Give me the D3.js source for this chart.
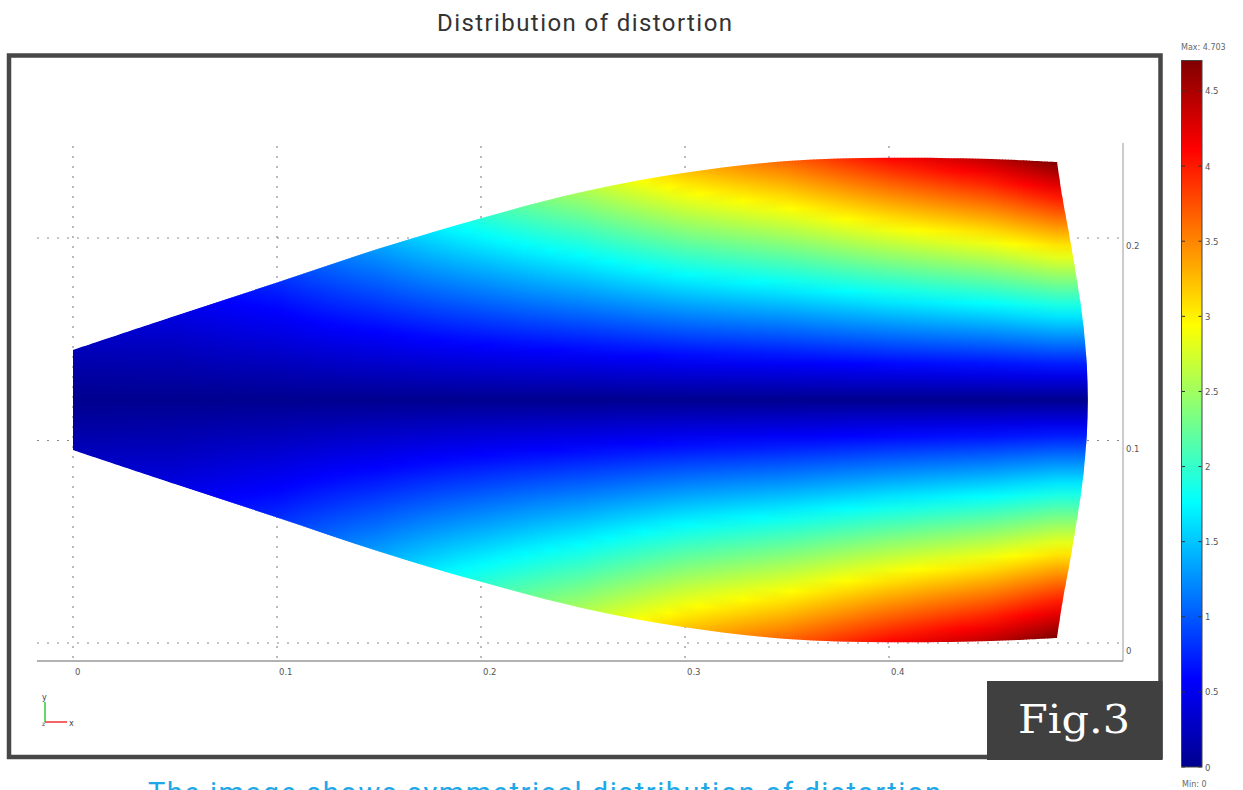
<!DOCTYPE html>
<html><head><meta charset="utf-8">
<script src="https://cdn.jsdelivr.net/npm/d3@7"></script>
<style>body{margin:0;background:#fff;overflow:hidden}</style>
</head><body><svg id="c" width="1243" height="790"></svg>
<script>
// ---------- data ----------
const xTicks = [0, 0.1, 0.2, 0.3, 0.4];
const yTicks = [0, 0.1, 0.2];
const colorTicks = [0, 0.5, 1, 1.5, 2, 2.5, 3, 3.5, 4, 4.5];
const valueMin = 0, valueMax = 4.703;
const centerY = 0.12;
// upper outline of the (symmetric) body
const profileX   = [0, 0.05, 0.1, 0.15, 0.2, 0.25, 0.3, 0.35, 0.4, 0.45, 0.482];
const halfHeight = [0.0247, 0.0415, 0.058, 0.0748, 0.0898, 0.1028, 0.1122, 0.1180, 0.1196, 0.1190, 0.1175];
// curved right end
const rightDy = [0.1175, 0.1, 0.075, 0.035, 0, -0.035, -0.075, -0.1, -0.1175];
const rightX  = [0.4824, 0.485, 0.4895, 0.4955, 0.4975, 0.4955, 0.4895, 0.485, 0.4824];
// distortion at fractions of half-height, one row per profileX
const heightFrac = [0, 0.25, 0.5, 0.75, 1];
const distortion = [
  [0, 0.05, 0.10, 0.16, 0.22],
  [0, 0.10, 0.20, 0.31, 0.42],
  [0, 0.19, 0.39, 0.58, 0.78],
  [0, 0.33, 0.66, 0.99, 1.32],
  [0, 0.49, 0.97, 1.45, 1.94],
  [0, 0.64, 1.28, 1.91, 2.55],
  [0, 0.80, 1.60, 2.40, 3.20],
  [0, 0.91, 1.83, 2.74, 3.65],
  [0, 1.03, 2.05, 3.08, 4.10],
  [0, 1.11, 2.21, 3.32, 4.42],
  [0, 1.18, 2.35, 3.53, 4.703]
];
// jet colour map
const jetPos = [0, 0.125, 0.375, 0.625, 0.875, 1];
const jetColors = ["#00008f", "#0000ff", "#00ffff", "#ffff00", "#ff0000", "#800000"];

// ---------- drawing ----------
const svg = d3.select("#c");
const defs = svg.append("defs");
const x = d3.scaleLinear().domain([0, 0.4]).range([73, 889]);
const y = d3.scaleLinear().domain([0, 0.2]).range([643, 238]);
const color = d3.scaleLinear().domain(jetPos.map(p => valueMin + p * (valueMax - valueMin)))
  .range(jetColors).clamp(true);

svg.append("text").attr("x", 584.5).attr("y", 31).attr("text-anchor", "middle")
  .attr("font-family", "Roboto, sans-serif").attr("font-size", 24).attr("fill", "#333")
  .attr("textLength", 295).attr("lengthAdjust", "spacing")
  .text("Distribution of distortion");

// frame
svg.append("rect").attr("x", 9).attr("y", 55.5).attr("width", 1151.5).attr("height", 701.5)
  .attr("fill", "#fff").attr("stroke", "#474747").attr("stroke-width", 4.5);

// dotted grid
const grid = svg.append("g").attr("stroke", "#8a8a8a").attr("stroke-width", 1.2)
  .attr("stroke-dasharray", "2,8");
grid.selectAll("line.h").data(yTicks).join("line").attr("class", "h")
  .attr("x1", 37).attr("x2", 1123).attr("y1", d => y(d)).attr("y2", d => y(d));
grid.selectAll("line.v").data(xTicks).join("line").attr("class", "v")
  .attr("x1", d => x(d)).attr("x2", d => x(d)).attr("y1", 146).attr("y2", 661);

// shape path
const line = d3.line().x(d => x(d[0])).y(d => y(d[1])).curve(d3.curveCatmullRom.alpha(0.5));
const topPts = profileX.map((px, i) => [px, centerY + halfHeight[i]]);
const rightPts = rightDy.map((d, i) => [rightX[i], centerY + d]);
const botPts = profileX.map((px, i) => [px, centerY - halfHeight[i]]).reverse();
const shapePath = line(topPts) + line(rightPts).replace(/^M/, "L") + line(botPts).replace(/^M/, "L") + "Z";
defs.append("clipPath").attr("id", "shape").append("path").attr("d", shapePath);

// interpolate table row at xv
function rowAt(xv) {
  if (xv >= profileX[profileX.length - 1]) return { vals: distortion[distortion.length - 1], h: halfHeight[halfHeight.length - 1] };
  let i = d3.bisectRight(profileX, xv) - 1; i = Math.max(0, Math.min(profileX.length - 2, i));
  const t = (xv - profileX[i]) / (profileX[i + 1] - profileX[i]);
  return {
    vals: distortion[i].map((v, k) => v + (distortion[i + 1][k] - v) * t),
    h: halfHeight[i] + (halfHeight[i + 1] - halfHeight[i]) * t
  };
}
function valAt(vals, f) {
  f = Math.min(1, Math.abs(f));
  let k = d3.bisectRight(heightFrac, f) - 1; k = Math.max(0, Math.min(heightFrac.length - 2, k));
  const t = (f - heightFrac[k]) / (heightFrac[k + 1] - heightFrac[k]);
  return vals[k] + (vals[k + 1] - vals[k]) * t;
}
const field = svg.append("g").attr("clip-path", "url(#shape)");
const step = 3;
// from top edge (+1) down to bottom edge (-1) so offsets ascend
const fracs = d3.range(0, 41).map(i => 1 - i * 0.05);
for (let px = x(0) - 1, n = 0; px <= x(0.4975) + 1; px += step, n++) {
  const xv = Math.max(0, x.invert(px + step / 2));
  const r = rowAt(xv);
  const g = defs.append("linearGradient").attr("id", "col" + n).attr("gradientUnits", "userSpaceOnUse")
    .attr("x1", 0).attr("x2", 0).attr("y1", y(centerY + r.h)).attr("y2", y(centerY - r.h));
  g.selectAll("stop").data(fracs).join("stop")
    .attr("offset", f => ((1 - f) / 2).toFixed(4))
    .attr("stop-color", f => color(valAt(r.vals, f)));
  field.append("rect").attr("x", px).attr("width", step + 0.6)
    .attr("y", y(centerY + 0.13)).attr("height", y(centerY - 0.13) - y(centerY + 0.13))
    .attr("fill", `url(#col${n})`);
}

// axes
svg.append("line").attr("x1", 37).attr("x2", 1123).attr("y1", 661).attr("y2", 661)
  .attr("stroke", "#999").attr("stroke-width", 1.5);
svg.append("line").attr("x1", 1123).attr("x2", 1123).attr("y1", 143).attr("y2", 661)
  .attr("stroke", "#aaa").attr("stroke-width", 1.2);
svg.selectAll("text.xt").data(xTicks).join("text").attr("class", "xt")
  .attr("x", d => x(d) + 2).attr("y", 675).attr("font-family", "DejaVu Sans, sans-serif")
  .attr("font-size", 8.5).attr("fill", "#555").text(d => d);
svg.selectAll("text.yt").data(yTicks).join("text").attr("class", "yt")
  .attr("x", 1126).attr("y", d => y(d) + 11).attr("font-family", "DejaVu Sans, sans-serif")
  .attr("font-size", 8.5).attr("fill", "#555").text(d => d);

// axis triad
svg.append("line").attr("x1", 45).attr("x2", 45).attr("y1", 702).attr("y2", 722).attr("stroke", "#3c3").attr("stroke-width", 1.5);
svg.append("line").attr("x1", 45).attr("x2", 67).attr("y1", 722).attr("y2", 722).attr("stroke", "#e33").attr("stroke-width", 1.5);
svg.append("text").attr("x", 42).attr("y", 700).attr("font-size", 8).attr("font-family", "DejaVu Sans").attr("fill", "#444").text("y");
svg.append("text").attr("x", 69).attr("y", 726).attr("font-size", 8).attr("font-family", "DejaVu Sans").attr("fill", "#444").text("x");
svg.append("text").attr("x", 42).attr("y", 726).attr("font-size", 6).attr("font-family", "DejaVu Sans").attr("fill", "#444").text("z");

// Fig.3 badge
svg.append("rect").attr("x", 987).attr("y", 681).attr("width", 175.5).attr("height", 79).attr("fill", "#404040");
svg.append("text").attr("x", 1018).attr("y", 733).attr("font-family", "DejaVu Serif, serif")
  .attr("font-size", 40).attr("fill", "#fff")
  .attr("textLength", 112).attr("lengthAdjust", "spacingAndGlyphs").text("Fig.3");

// colour bar
const cy = d3.scaleLinear().domain([valueMin, valueMax]).range([767, 60.5]);
const cg = defs.append("linearGradient").attr("id", "cbar").attr("x1", 0).attr("x2", 0).attr("y1", 1).attr("y2", 0);
cg.selectAll("stop").data(jetPos).join("stop").attr("offset", d => d).attr("stop-color", (d, i) => jetColors[i]);
svg.append("rect").attr("x", 1181.5).attr("y", cy(valueMax)).attr("width", 20.5).attr("height", cy(valueMin) - cy(valueMax))
  .attr("fill", "url(#cbar)").attr("stroke", "#444").attr("stroke-width", 1);
const ct = svg.append("g").attr("stroke", "#333").attr("stroke-width", 1);
ct.selectAll("line.l").data(colorTicks).join("line").attr("class", "l")
  .attr("x1", 1182).attr("x2", 1185).attr("y1", d => cy(d)).attr("y2", d => cy(d));
ct.selectAll("line.r").data(colorTicks).join("line").attr("class", "r")
  .attr("x1", 1198.5).attr("x2", 1201.5).attr("y1", d => cy(d)).attr("y2", d => cy(d));
svg.selectAll("text.ct").data(colorTicks).join("text").attr("class", "ct")
  .attr("x", 1205).attr("y", d => cy(d) + 3.5).attr("font-family", "DejaVu Sans, sans-serif")
  .attr("font-size", 8.5).attr("fill", "#555").text(d => d);
svg.append("text").attr("x", 1181).attr("y", 50).attr("font-family", "DejaVu Sans, sans-serif")
  .attr("font-size", 8).attr("fill", "#666").text("Max: " + valueMax);
svg.append("text").attr("x", 1182).attr("y", 787).attr("font-family", "DejaVu Sans, sans-serif")
  .attr("font-size", 8).attr("fill", "#666").text("Min: " + valueMin);

// caption (partly cut off at the bottom, as in the reference)
svg.append("text").attr("x", 148).attr("y", 803).attr("font-family", "Roboto, sans-serif")
  .attr("font-size", 29).attr("fill", "#1ea8e8").attr("textLength", 793).attr("lengthAdjust", "spacing")
  .text("The image shows symmetrical distribution of distortion");
</script></body></html>
